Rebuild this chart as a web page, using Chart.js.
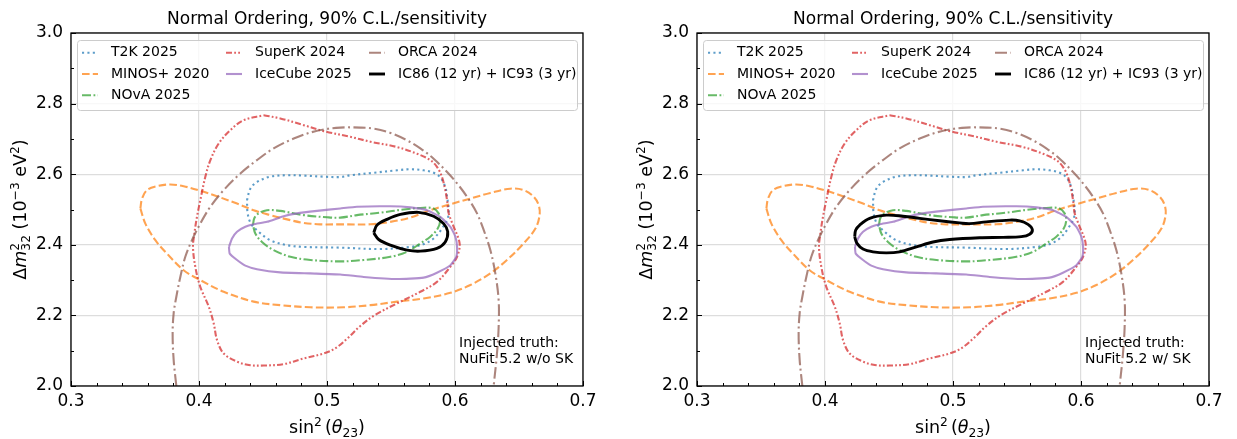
<!DOCTYPE html>
<html>
<head>
<meta charset="utf-8">
<script src="https://cdn.jsdelivr.net/npm/chart.js@4.4.1/dist/chart.umd.min.js"></script>
<style>
  html, body { margin: 0; padding: 0; background: #fff; }
  body { width: 1237px; height: 439px; position: relative; overflow: hidden; }
  canvas { position: absolute; top: 0; }
  #left { left: 0; }
  #right { left: 626px; }
</style>
</head>
<body>
<canvas id="left" width="611" height="439"></canvas>
<canvas id="right" width="611" height="439"></canvas>
<script>
const xTicks = [0.3, 0.4, 0.5, 0.6, 0.7];
const xMinorTicks = [0.32, 0.34, 0.36, 0.38, 0.42, 0.44, 0.46, 0.48, 0.52, 0.54, 0.56, 0.58, 0.62, 0.64, 0.66, 0.68];
const yTicks = [2.0, 2.2, 2.4, 2.6, 2.8, 3.0];
const yMinorTicks = [2.1, 2.3, 2.5, 2.7, 2.9];

const seriesLabels = ['T2K 2025', 'MINOS+ 2020', 'NOvA 2025', 'SuperK 2024', 'IceCube 2025', 'ORCA 2024', 'IC86 (12 yr) + IC93 (3 yr)'];
const titleText = 'Normal Ordering, 90% C.L./sensitivity';
const truthNotes = [['Injected truth:', 'NuFit 5.2 w/o SK'], ['Injected truth:', 'NuFit 5.2 w/ SK']];

// contours, [sin^2 theta23, dm2_32]
const t2k = [[0.4375,2.526],[0.4401,2.559],[0.4453,2.578],[0.4557,2.593],[0.4688,2.597],[0.4818,2.596],[0.497,2.593],[0.5104,2.592],[0.5182,2.597],[0.5365,2.604],[0.5547,2.611],[0.5651,2.614],[0.5755,2.611],[0.5833,2.604],[0.5885,2.591],[0.5924,2.564],[0.5938,2.536],[0.5951,2.498],[0.5943,2.475],[0.5898,2.446],[0.5833,2.418],[0.5755,2.402],[0.5651,2.394],[0.5417,2.388],[0.5104,2.392],[0.4818,2.394],[0.4688,2.399],[0.4557,2.413],[0.4466,2.437],[0.4406,2.460],[0.438,2.489],[0.4375,2.526]];

const minos = [[0.3542,2.503],[0.3555,2.531],[0.3594,2.555],[0.3672,2.566],[0.3776,2.571],[0.388,2.566],[0.401,2.553],[0.4167,2.534],[0.4297,2.517],[0.4427,2.498],[0.4557,2.484],[0.4688,2.472],[0.4818,2.462],[0.4948,2.458],[0.5104,2.458],[0.5339,2.458],[0.5495,2.465],[0.5651,2.477],[0.5807,2.498],[0.5964,2.515],[0.612,2.531],[0.6276,2.547],[0.6432,2.559],[0.6536,2.555],[0.6615,2.536],[0.6654,2.512],[0.6661,2.484],[0.6628,2.446],[0.6536,2.404],[0.6406,2.357],[0.6276,2.319],[0.612,2.286],[0.5964,2.264],[0.5755,2.248],[0.5547,2.239],[0.5339,2.229],[0.513,2.223],[0.487,2.223],[0.4635,2.229],[0.4427,2.239],[0.4193,2.267],[0.401,2.300],[0.388,2.328],[0.375,2.375],[0.3659,2.413],[0.3581,2.460],[0.3542,2.503]];

const nova = [[0.4422,2.456],[0.4432,2.475],[0.4466,2.489],[0.4531,2.498],[0.4635,2.496],[0.4818,2.484],[0.5,2.478],[0.5104,2.477],[0.5234,2.484],[0.5417,2.491],[0.5599,2.500],[0.5755,2.505],[0.5833,2.503],[0.5872,2.489],[0.5885,2.470],[0.5865,2.446],[0.5807,2.423],[0.5729,2.404],[0.5625,2.380],[0.5495,2.366],[0.5286,2.357],[0.5104,2.353],[0.487,2.357],[0.4714,2.366],[0.4583,2.385],[0.4492,2.408],[0.444,2.432],[0.4422,2.456]];

const superk = [[0.4505,2.767],[0.4635,2.758],[0.4818,2.739],[0.4974,2.722],[0.5182,2.706],[0.5339,2.692],[0.5547,2.677],[0.5703,2.658],[0.5807,2.640],[0.5859,2.621],[0.5898,2.592],[0.5924,2.555],[0.5938,2.526],[0.5951,2.489],[0.599,2.451],[0.6036,2.404],[0.6016,2.366],[0.5964,2.338],[0.5859,2.295],[0.5729,2.267],[0.5547,2.234],[0.537,2.200],[0.526,2.170],[0.516,2.135],[0.507,2.108],[0.4974,2.092],[0.4818,2.078],[0.4661,2.062],[0.4505,2.058],[0.4401,2.059],[0.4297,2.069],[0.4193,2.092],[0.4141,2.130],[0.4115,2.177],[0.4076,2.225],[0.401,2.281],[0.3971,2.338],[0.3953,2.394],[0.3964,2.432],[0.3984,2.479],[0.401,2.526],[0.4049,2.592],[0.4089,2.640],[0.4154,2.687],[0.4245,2.725],[0.4349,2.753],[0.4505,2.767]];

const icecube = [[0.4234,2.394],[0.4258,2.418],[0.4297,2.437],[0.4362,2.451],[0.4427,2.458],[0.4531,2.465],[0.4661,2.481],[0.4766,2.489],[0.4922,2.496],[0.5104,2.503],[0.5234,2.508],[0.5495,2.509],[0.5651,2.506],[0.5781,2.498],[0.5885,2.479],[0.5964,2.451],[0.6003,2.423],[0.6016,2.394],[0.601,2.366],[0.5964,2.342],[0.5859,2.321],[0.5755,2.307],[0.5547,2.303],[0.5286,2.309],[0.5104,2.316],[0.487,2.319],[0.4635,2.322],[0.4453,2.331],[0.4362,2.341],[0.4297,2.357],[0.424,2.375],[0.4234,2.394]];

const orca = [[0.3823,2.0],[0.3802,2.074],[0.3794,2.149],[0.3802,2.206],[0.3823,2.253],[0.3854,2.309],[0.3893,2.366],[0.3945,2.413],[0.401,2.460],[0.4089,2.508],[0.4193,2.555],[0.4323,2.602],[0.4453,2.640],[0.4583,2.673],[0.474,2.701],[0.4922,2.723],[0.5104,2.732],[0.526,2.732],[0.5365,2.729],[0.5495,2.717],[0.5625,2.696],[0.5729,2.673],[0.5833,2.644],[0.5938,2.606],[0.6016,2.574],[0.6094,2.536],[0.6172,2.489],[0.6224,2.442],[0.6276,2.385],[0.6315,2.319],[0.6341,2.243],[0.6341,2.168],[0.6328,2.092],[0.6302,2.0]];

const icNoSK = [[0.5365,2.434],[0.5391,2.456],[0.5469,2.472],[0.5573,2.486],[0.5716,2.492],[0.5833,2.481],[0.5911,2.460],[0.5943,2.437],[0.5924,2.408],[0.5859,2.390],[0.5729,2.382],[0.5625,2.385],[0.5495,2.399],[0.5404,2.415],[0.5365,2.434]];

const icWithSK = [[0.4232,2.423],[0.424,2.442],[0.4271,2.456],[0.4349,2.475],[0.4479,2.484],[0.4609,2.481],[0.474,2.475],[0.4896,2.468],[0.5052,2.462],[0.513,2.460],[0.526,2.465],[0.5443,2.470],[0.5521,2.468],[0.5586,2.458],[0.562,2.443],[0.5599,2.430],[0.5534,2.423],[0.5391,2.421],[0.5208,2.420],[0.4974,2.415],[0.4844,2.408],[0.4714,2.394],[0.4583,2.380],[0.4479,2.377],[0.4375,2.380],[0.4297,2.388],[0.425,2.404],[0.4232,2.423]];

const styles = [
  { color: 'rgba(31,119,180,0.72)', dash: [2.1, 3.3], width: 2.1, tension: 0.35 },
  { color: 'rgba(255,127,14,0.72)', dash: [7.6, 3.2], width: 2.1, tension: 0.35 },
  { color: 'rgba(44,160,44,0.72)', dash: [9, 2.5, 1.8, 2.5], width: 2.1, tension: 0.35 },
  { color: 'rgba(214,39,40,0.72)', dash: [6, 2.2, 1.8, 2.2, 1.8, 2.2], width: 2.1, tension: 0.35 },
  { color: 'rgba(148,103,189,0.72)', dash: [], width: 2.1, tension: 0.15 },
  { color: 'rgba(140,86,75,0.72)', dash: [12, 3.5, 2, 3.5], width: 2.1, tension: 0.35 },
  { color: '#000000', dash: [], width: 2.9, tension: 0.35 }
];

const FONT = '"DejaVu Sans"';
Chart.defaults.font.family = FONT;
Chart.defaults.color = '#000';

// text made of runs, for super/subscripts
function drawMath(ctx, runs, cx, baseY, size) {
  const fontOf = r => `${r.it ? 'italic ' : ''}${(size * (r.sc || 1)).toFixed(1)}px ${FONT}`;
  let w = 0;
  const xs = [];
  runs.forEach(r => {
    ctx.font = fontOf(r);
    w += r.dx || 0;
    xs.push(w);
    if (!r.stack) w += ctx.measureText(r.t).width;
  });
  let x0 = cx - w / 2;
  ctx.textAlign = 'left';
  ctx.textBaseline = 'alphabetic';
  runs.forEach((r, i) => {
    ctx.font = fontOf(r);
    ctx.fillText(r.t, x0 + xs[i], baseY + (r.dy || 0) * size);
  });
}

const xTitle = [
  { t: 'sin' }, { t: '2', sc: 0.7, dy: -0.4 }, { t: '(', dx: 3 }, { t: 'θ', it: true }, { t: '23', sc: 0.7, dy: 0.22 }, { t: ')' }
];
const yTitle = [
  { t: 'Δ' }, { t: 'm', it: true }, { t: '2', sc: 0.7, dy: -0.42, stack: true }, { t: '32', sc: 0.7, dy: 0.25 },
  { t: ' (10' }, { t: '−3', sc: 0.7, dy: -0.4 }, { t: ' eV' }, { t: '2', sc: 0.7, dy: -0.4 }, { t: ')' }
];

const decorations = {
  id: 'decorations',
  afterDraw(chart, args, opts) {
    const { ctx, chartArea: a, scales: { x, y } } = chart;
    ctx.save();

    // inward ticks
    ctx.strokeStyle = '#000';
    ctx.lineWidth = 1;
    ctx.beginPath();
    xTicks.forEach(v => { const p = Math.round(x.getPixelForValue(v)) + 0.5; ctx.moveTo(p, a.bottom); ctx.lineTo(p, a.bottom - 5); });
    xMinorTicks.forEach(v => { const p = Math.round(x.getPixelForValue(v)) + 0.5; ctx.moveTo(p, a.bottom); ctx.lineTo(p, a.bottom - 3); });
    yTicks.forEach(v => { const p = Math.round(y.getPixelForValue(v)) + 0.5; ctx.moveTo(a.left, p); ctx.lineTo(a.left + 5, p); });
    yMinorTicks.forEach(v => { const p = Math.round(y.getPixelForValue(v)) + 0.5; ctx.moveTo(a.left, p); ctx.lineTo(a.left + 3, p); });
    ctx.stroke();

    // frame
    ctx.lineWidth = 1.3;
    ctx.strokeRect(a.left, a.top, a.right - a.left, a.bottom - a.top);

    // legend, 3 columns filled top-down
    const bx = a.left + 6, by = a.top + 7, bw = 500, bh = 70;
    ctx.fillStyle = 'rgba(255,255,255,0.8)';
    ctx.strokeStyle = '#cccccc';
    ctx.lineWidth = 1;
    ctx.beginPath();
    ctx.roundRect(bx + 0.5, by + 0.5, bw, bh, 3);
    ctx.fill();
    ctx.stroke();
    const cols = [[0, 1, 2], [3, 4], [5, 6]];
    const colX = [11, 155, 298];
    ctx.font = `14px ${FONT}`;
    ctx.textAlign = 'left';
    ctx.textBaseline = 'middle';
    cols.forEach((items, c) => {
      items.forEach((idx, r) => {
        const ds = chart.data.datasets[idx];
        const ry = a.top + 19.7 + r * 21.3;
        const sx = a.left + colX[c];
        ctx.strokeStyle = ds.borderColor;
        ctx.lineWidth = ds.borderWidth;
        ctx.setLineDash(ds.borderDash);
        ctx.lineCap = 'butt';
        ctx.beginPath();
        ctx.moveTo(sx, ry);
        ctx.lineTo(sx + 16, ry);
        ctx.stroke();
        ctx.setLineDash([]);
        ctx.fillStyle = '#000';
        ctx.fillText(ds.label, sx + 29, ry);
      });
    });

    // injected truth note
    ctx.font = `14px ${FONT}`;
    ctx.textBaseline = 'alphabetic';
    ctx.fillStyle = '#000';
    opts.note.forEach((line, i) => ctx.fillText(line, a.left + 388, 346.5 + i * 16));

    // axis titles
    drawMath(ctx, xTitle, (a.left + a.right) / 2, 433, 17.5);
    ctx.translate(26, (a.top + a.bottom) / 2);
    ctx.rotate(-Math.PI / 2);
    drawMath(ctx, yTitle, 0, 0, 17.5);
    ctx.restore();
  }
};

function makeChart(id, blackCurve, note) {
  const curves = [t2k, minos, nova, superk, icecube, orca, blackCurve];
  const datasets = curves.map((pts, i) => ({
    label: seriesLabels[i],
    data: pts.map(([x, y]) => ({ x, y })),
    showLine: true,
    borderColor: styles[i].color,
    borderDash: styles[i].dash,
    borderWidth: styles[i].width,
    borderCapStyle: 'butt',
    borderJoinStyle: 'round',
    tension: styles[i].tension,
    pointRadius: 0,
    pointHoverRadius: 0,
    fill: false,
    order: curves.length - i
  }));

  return new Chart(document.getElementById(id), {
    type: 'scatter',
    data: { datasets },
    options: {
      responsive: false,
      animation: false,
      events: [],
      layout: { padding: { left: 0, right: 28, top: 0, bottom: 0 } },
      plugins: {
        legend: { display: false },
        tooltip: { enabled: false },
        title: {
          display: true,
          text: titleText,
          fullSize: false,
          color: '#000',
          font: { size: 17, weight: 'normal' },
          padding: { top: 9.4, bottom: 3.2 }
        },
        decorations: { note }
      },
      scales: {
        x: {
          type: 'linear',
          min: 0.3,
          max: 0.7,
          afterBuildTicks: s => { s.ticks = xTicks.map(v => ({ value: v })); },
          afterFit: s => { s.height = 53; },
          grid: { color: '#dddddd', lineWidth: 1.2, drawTicks: false },
          border: { display: false },
          ticks: { padding: 5, font: { size: 17 }, color: '#000', maxRotation: 0, autoSkip: false, callback: v => v.toFixed(1) }
        },
        y: {
          type: 'linear',
          min: 2.0,
          max: 3.0,
          afterBuildTicks: s => { s.ticks = yTicks.map(v => ({ value: v })); },
          afterFit: s => { s.width = 71; },
          grid: { color: '#dddddd', lineWidth: 1.2, drawTicks: false },
          border: { display: false },
          ticks: { padding: 8, font: { size: 17 }, color: '#000', autoSkip: false, callback: v => v.toFixed(1) }
        }
      }
    },
    plugins: [decorations]
  });
}

makeChart('left', icNoSK, truthNotes[0]);
makeChart('right', icWithSK, truthNotes[1]);
</script>
</body>
</html>
